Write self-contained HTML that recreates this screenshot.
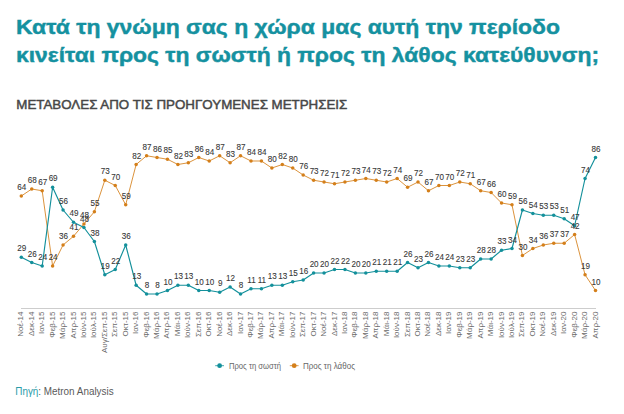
<!DOCTYPE html>
<html><head><meta charset="utf-8"><style>
html,body{margin:0;padding:0;background:#fff;width:624px;height:414px;overflow:hidden}
svg{display:block}
text{font-family:"Liberation Sans",sans-serif}
.t{font-size:21px;font-weight:bold;fill:#1591a0;stroke:#1591a0;stroke-width:0.45px}
.st{font-size:12.3px;font-weight:normal;fill:#474747;stroke:#474747;stroke-width:0.45px}
.xl{font-size:8px;fill:#6a6a6a}
.dl{font-size:9px;fill:#383838;stroke:#383838;stroke-width:0.1px;text-anchor:middle}
.lg{font-size:8.2px;fill:#666}
.src{font-size:10.5px;fill:#5a5a5a}
</style></head><body>
<svg width="624" height="414" viewBox="0 0 624 414">
<text x="16" y="33.6" class="t" textLength="544" lengthAdjust="spacingAndGlyphs">Κατά τη γνώμη σας η χώρα μας αυτή την περίοδο</text>
<text x="16" y="62.2" class="t" textLength="583" lengthAdjust="spacingAndGlyphs">κινείται προς τη σωστή ή προς τη λάθος κατεύθυνση;</text>
<text x="16.3" y="108.8" class="st" textLength="331" lengthAdjust="spacingAndGlyphs">ΜΕΤΑΒΟΛΕΣ ΑΠΟ ΤΙΣ ΠΡΟΗΓΟΥΜΕΝΕΣ ΜΕΤΡΗΣΕΙΣ</text>
<line x1="21" y1="308.5" x2="596" y2="308.5" stroke="#cdcdcd" stroke-width="1"/>
<text transform="translate(23.30,311.5) rotate(-90)" text-anchor="end" class="xl">Νοέ-14</text>
<text transform="translate(33.74,311.5) rotate(-90)" text-anchor="end" class="xl">Δεκ-14</text>
<text transform="translate(44.18,311.5) rotate(-90)" text-anchor="end" class="xl">Ιαν-15</text>
<text transform="translate(54.62,311.5) rotate(-90)" text-anchor="end" class="xl">Φεβ-15</text>
<text transform="translate(65.06,311.5) rotate(-90)" text-anchor="end" class="xl">Μάρ-15</text>
<text transform="translate(75.50,311.5) rotate(-90)" text-anchor="end" class="xl">Απρ-15</text>
<text transform="translate(85.94,311.5) rotate(-90)" text-anchor="end" class="xl">Ιούν-15</text>
<text transform="translate(96.38,311.5) rotate(-90)" text-anchor="end" class="xl">Ιούλ-15</text>
<text transform="translate(106.82,311.5) rotate(-90)" text-anchor="end" class="xl">Αυγ/Σεπ-15</text>
<text transform="translate(117.26,311.5) rotate(-90)" text-anchor="end" class="xl">Σεπ-15</text>
<text transform="translate(127.70,311.5) rotate(-90)" text-anchor="end" class="xl">Οκτ-15</text>
<text transform="translate(138.14,311.5) rotate(-90)" text-anchor="end" class="xl">Ιαν-16</text>
<text transform="translate(148.58,311.5) rotate(-90)" text-anchor="end" class="xl">Φεβ-16</text>
<text transform="translate(159.02,311.5) rotate(-90)" text-anchor="end" class="xl">Μάρ-16</text>
<text transform="translate(169.46,311.5) rotate(-90)" text-anchor="end" class="xl">Απρ-16</text>
<text transform="translate(179.90,311.5) rotate(-90)" text-anchor="end" class="xl">Μάι-16</text>
<text transform="translate(190.34,311.5) rotate(-90)" text-anchor="end" class="xl">Ιούν-16</text>
<text transform="translate(200.78,311.5) rotate(-90)" text-anchor="end" class="xl">Σεπ-16</text>
<text transform="translate(211.22,311.5) rotate(-90)" text-anchor="end" class="xl">Οκτ-16</text>
<text transform="translate(221.66,311.5) rotate(-90)" text-anchor="end" class="xl">Νοέ-16</text>
<text transform="translate(232.10,311.5) rotate(-90)" text-anchor="end" class="xl">Δεκ-16</text>
<text transform="translate(242.54,311.5) rotate(-90)" text-anchor="end" class="xl">Ιαν-17</text>
<text transform="translate(252.98,311.5) rotate(-90)" text-anchor="end" class="xl">Φεβ-17</text>
<text transform="translate(263.42,311.5) rotate(-90)" text-anchor="end" class="xl">Μάρ-17</text>
<text transform="translate(273.86,311.5) rotate(-90)" text-anchor="end" class="xl">Απρ-17</text>
<text transform="translate(284.30,311.5) rotate(-90)" text-anchor="end" class="xl">Μάι-17</text>
<text transform="translate(294.74,311.5) rotate(-90)" text-anchor="end" class="xl">Ιούν-17</text>
<text transform="translate(305.18,311.5) rotate(-90)" text-anchor="end" class="xl">Σεπ-17</text>
<text transform="translate(315.62,311.5) rotate(-90)" text-anchor="end" class="xl">Οκτ-17</text>
<text transform="translate(326.06,311.5) rotate(-90)" text-anchor="end" class="xl">Νοέ-17</text>
<text transform="translate(336.50,311.5) rotate(-90)" text-anchor="end" class="xl">Δεκ-17</text>
<text transform="translate(346.94,311.5) rotate(-90)" text-anchor="end" class="xl">Ιαν-18</text>
<text transform="translate(357.38,311.5) rotate(-90)" text-anchor="end" class="xl">Φεβ-18</text>
<text transform="translate(367.82,311.5) rotate(-90)" text-anchor="end" class="xl">Μάρ-18</text>
<text transform="translate(378.26,311.5) rotate(-90)" text-anchor="end" class="xl">Απρ-18</text>
<text transform="translate(388.70,311.5) rotate(-90)" text-anchor="end" class="xl">Μάι-18</text>
<text transform="translate(399.14,311.5) rotate(-90)" text-anchor="end" class="xl">Ιούν-18</text>
<text transform="translate(409.58,311.5) rotate(-90)" text-anchor="end" class="xl">Σεπ-18</text>
<text transform="translate(420.02,311.5) rotate(-90)" text-anchor="end" class="xl">Οκτ-18</text>
<text transform="translate(430.46,311.5) rotate(-90)" text-anchor="end" class="xl">Νοέ-18</text>
<text transform="translate(440.90,311.5) rotate(-90)" text-anchor="end" class="xl">Δεκ-18</text>
<text transform="translate(451.34,311.5) rotate(-90)" text-anchor="end" class="xl">Ιαν-19</text>
<text transform="translate(461.78,311.5) rotate(-90)" text-anchor="end" class="xl">Φεβ-19</text>
<text transform="translate(472.22,311.5) rotate(-90)" text-anchor="end" class="xl">Μάρ-19</text>
<text transform="translate(482.66,311.5) rotate(-90)" text-anchor="end" class="xl">Απρ-19</text>
<text transform="translate(493.10,311.5) rotate(-90)" text-anchor="end" class="xl">Μάι-19</text>
<text transform="translate(503.54,311.5) rotate(-90)" text-anchor="end" class="xl">Ιούν-19</text>
<text transform="translate(513.98,311.5) rotate(-90)" text-anchor="end" class="xl">Ιούλ-19</text>
<text transform="translate(524.42,311.5) rotate(-90)" text-anchor="end" class="xl">Σεπ-19</text>
<text transform="translate(534.86,311.5) rotate(-90)" text-anchor="end" class="xl">Οκτ-19</text>
<text transform="translate(545.30,311.5) rotate(-90)" text-anchor="end" class="xl">Νοέ-19</text>
<text transform="translate(555.74,311.5) rotate(-90)" text-anchor="end" class="xl">Δεκ-19</text>
<text transform="translate(566.18,311.5) rotate(-90)" text-anchor="end" class="xl">Ιαν-20</text>
<text transform="translate(576.62,311.5) rotate(-90)" text-anchor="end" class="xl">Φεβ-20</text>
<text transform="translate(587.06,311.5) rotate(-90)" text-anchor="end" class="xl">Μάρ-20</text>
<text transform="translate(597.50,311.5) rotate(-90)" text-anchor="end" class="xl">Απρ-20</text>
<polyline points="21.30,196.00 31.74,189.00 42.18,190.75 52.62,266.00 63.06,245.00 73.50,236.25 83.94,224.00 94.38,211.75 104.82,180.25 115.26,185.50 125.70,204.75 136.14,164.50 146.58,155.75 157.02,157.50 167.46,159.25 177.90,164.50 188.34,162.75 198.78,157.50 209.22,161.00 219.66,155.75 230.10,162.75 240.54,155.75 250.98,161.00 261.42,161.00 271.86,168.00 282.30,164.50 292.74,168.00 303.18,175.00 313.62,180.25 324.06,182.00 334.50,183.75 344.94,182.00 355.38,180.25 365.82,178.50 376.26,180.25 386.70,182.00 397.14,178.50 407.58,187.25 418.02,182.00 428.46,190.75 438.90,185.50 449.34,185.50 459.78,182.00 470.22,183.75 480.66,190.75 491.10,192.50 501.54,203.00 511.98,204.75 522.42,255.50 532.86,248.50 543.30,245.00 553.74,243.25 564.18,243.25 574.62,234.50 585.06,274.75 595.50,290.50" fill="none" stroke="#d47f1a" stroke-width="0.85" stroke-linejoin="round"/><circle cx="21.30" cy="196.00" r="1.75" fill="#d47f1a"/><circle cx="31.74" cy="189.00" r="1.75" fill="#d47f1a"/><circle cx="42.18" cy="190.75" r="1.75" fill="#d47f1a"/><circle cx="52.62" cy="266.00" r="1.75" fill="#d47f1a"/><circle cx="63.06" cy="245.00" r="1.75" fill="#d47f1a"/><circle cx="73.50" cy="236.25" r="1.75" fill="#d47f1a"/><circle cx="83.94" cy="224.00" r="1.75" fill="#d47f1a"/><circle cx="94.38" cy="211.75" r="1.75" fill="#d47f1a"/><circle cx="104.82" cy="180.25" r="1.75" fill="#d47f1a"/><circle cx="115.26" cy="185.50" r="1.75" fill="#d47f1a"/><circle cx="125.70" cy="204.75" r="1.75" fill="#d47f1a"/><circle cx="136.14" cy="164.50" r="1.75" fill="#d47f1a"/><circle cx="146.58" cy="155.75" r="1.75" fill="#d47f1a"/><circle cx="157.02" cy="157.50" r="1.75" fill="#d47f1a"/><circle cx="167.46" cy="159.25" r="1.75" fill="#d47f1a"/><circle cx="177.90" cy="164.50" r="1.75" fill="#d47f1a"/><circle cx="188.34" cy="162.75" r="1.75" fill="#d47f1a"/><circle cx="198.78" cy="157.50" r="1.75" fill="#d47f1a"/><circle cx="209.22" cy="161.00" r="1.75" fill="#d47f1a"/><circle cx="219.66" cy="155.75" r="1.75" fill="#d47f1a"/><circle cx="230.10" cy="162.75" r="1.75" fill="#d47f1a"/><circle cx="240.54" cy="155.75" r="1.75" fill="#d47f1a"/><circle cx="250.98" cy="161.00" r="1.75" fill="#d47f1a"/><circle cx="261.42" cy="161.00" r="1.75" fill="#d47f1a"/><circle cx="271.86" cy="168.00" r="1.75" fill="#d47f1a"/><circle cx="282.30" cy="164.50" r="1.75" fill="#d47f1a"/><circle cx="292.74" cy="168.00" r="1.75" fill="#d47f1a"/><circle cx="303.18" cy="175.00" r="1.75" fill="#d47f1a"/><circle cx="313.62" cy="180.25" r="1.75" fill="#d47f1a"/><circle cx="324.06" cy="182.00" r="1.75" fill="#d47f1a"/><circle cx="334.50" cy="183.75" r="1.75" fill="#d47f1a"/><circle cx="344.94" cy="182.00" r="1.75" fill="#d47f1a"/><circle cx="355.38" cy="180.25" r="1.75" fill="#d47f1a"/><circle cx="365.82" cy="178.50" r="1.75" fill="#d47f1a"/><circle cx="376.26" cy="180.25" r="1.75" fill="#d47f1a"/><circle cx="386.70" cy="182.00" r="1.75" fill="#d47f1a"/><circle cx="397.14" cy="178.50" r="1.75" fill="#d47f1a"/><circle cx="407.58" cy="187.25" r="1.75" fill="#d47f1a"/><circle cx="418.02" cy="182.00" r="1.75" fill="#d47f1a"/><circle cx="428.46" cy="190.75" r="1.75" fill="#d47f1a"/><circle cx="438.90" cy="185.50" r="1.75" fill="#d47f1a"/><circle cx="449.34" cy="185.50" r="1.75" fill="#d47f1a"/><circle cx="459.78" cy="182.00" r="1.75" fill="#d47f1a"/><circle cx="470.22" cy="183.75" r="1.75" fill="#d47f1a"/><circle cx="480.66" cy="190.75" r="1.75" fill="#d47f1a"/><circle cx="491.10" cy="192.50" r="1.75" fill="#d47f1a"/><circle cx="501.54" cy="203.00" r="1.75" fill="#d47f1a"/><circle cx="511.98" cy="204.75" r="1.75" fill="#d47f1a"/><circle cx="522.42" cy="255.50" r="1.75" fill="#d47f1a"/><circle cx="532.86" cy="248.50" r="1.75" fill="#d47f1a"/><circle cx="543.30" cy="245.00" r="1.75" fill="#d47f1a"/><circle cx="553.74" cy="243.25" r="1.75" fill="#d47f1a"/><circle cx="564.18" cy="243.25" r="1.75" fill="#d47f1a"/><circle cx="574.62" cy="234.50" r="1.75" fill="#d47f1a"/><circle cx="585.06" cy="274.75" r="1.75" fill="#d47f1a"/><circle cx="595.50" cy="290.50" r="1.75" fill="#d47f1a"/>
<polyline points="21.30,257.25 31.74,262.50 42.18,266.00 52.62,187.25 63.06,210.00 73.50,222.25 83.94,227.50 94.38,241.50 104.82,274.75 115.26,269.50 125.70,245.00 136.14,285.25 146.58,294.00 157.02,294.00 167.46,290.50 177.90,285.25 188.34,285.25 198.78,290.50 209.22,290.50 219.66,292.25 230.10,287.00 240.54,294.00 250.98,288.75 261.42,288.75 271.86,285.25 282.30,285.25 292.74,281.75 303.18,280.00 313.62,273.00 324.06,273.00 334.50,269.50 344.94,269.50 355.38,273.00 365.82,273.00 376.26,271.25 386.70,271.25 397.14,271.25 407.58,262.50 418.02,267.75 428.46,262.50 438.90,266.00 449.34,266.00 459.78,267.75 470.22,267.75 480.66,259.00 491.10,259.00 501.54,250.25 511.98,248.50 522.42,210.00 532.86,213.50 543.30,215.25 553.74,215.25 564.18,218.75 574.62,225.75 585.06,178.50 595.50,157.50" fill="none" stroke="#13909b" stroke-width="1.15" stroke-linejoin="round"/><circle cx="21.30" cy="257.25" r="1.75" fill="#13909b"/><circle cx="31.74" cy="262.50" r="1.75" fill="#13909b"/><circle cx="42.18" cy="266.00" r="1.75" fill="#13909b"/><circle cx="52.62" cy="187.25" r="1.75" fill="#13909b"/><circle cx="63.06" cy="210.00" r="1.75" fill="#13909b"/><circle cx="73.50" cy="222.25" r="1.75" fill="#13909b"/><circle cx="83.94" cy="227.50" r="1.75" fill="#13909b"/><circle cx="94.38" cy="241.50" r="1.75" fill="#13909b"/><circle cx="104.82" cy="274.75" r="1.75" fill="#13909b"/><circle cx="115.26" cy="269.50" r="1.75" fill="#13909b"/><circle cx="125.70" cy="245.00" r="1.75" fill="#13909b"/><circle cx="136.14" cy="285.25" r="1.75" fill="#13909b"/><circle cx="146.58" cy="294.00" r="1.75" fill="#13909b"/><circle cx="157.02" cy="294.00" r="1.75" fill="#13909b"/><circle cx="167.46" cy="290.50" r="1.75" fill="#13909b"/><circle cx="177.90" cy="285.25" r="1.75" fill="#13909b"/><circle cx="188.34" cy="285.25" r="1.75" fill="#13909b"/><circle cx="198.78" cy="290.50" r="1.75" fill="#13909b"/><circle cx="209.22" cy="290.50" r="1.75" fill="#13909b"/><circle cx="219.66" cy="292.25" r="1.75" fill="#13909b"/><circle cx="230.10" cy="287.00" r="1.75" fill="#13909b"/><circle cx="240.54" cy="294.00" r="1.75" fill="#13909b"/><circle cx="250.98" cy="288.75" r="1.75" fill="#13909b"/><circle cx="261.42" cy="288.75" r="1.75" fill="#13909b"/><circle cx="271.86" cy="285.25" r="1.75" fill="#13909b"/><circle cx="282.30" cy="285.25" r="1.75" fill="#13909b"/><circle cx="292.74" cy="281.75" r="1.75" fill="#13909b"/><circle cx="303.18" cy="280.00" r="1.75" fill="#13909b"/><circle cx="313.62" cy="273.00" r="1.75" fill="#13909b"/><circle cx="324.06" cy="273.00" r="1.75" fill="#13909b"/><circle cx="334.50" cy="269.50" r="1.75" fill="#13909b"/><circle cx="344.94" cy="269.50" r="1.75" fill="#13909b"/><circle cx="355.38" cy="273.00" r="1.75" fill="#13909b"/><circle cx="365.82" cy="273.00" r="1.75" fill="#13909b"/><circle cx="376.26" cy="271.25" r="1.75" fill="#13909b"/><circle cx="386.70" cy="271.25" r="1.75" fill="#13909b"/><circle cx="397.14" cy="271.25" r="1.75" fill="#13909b"/><circle cx="407.58" cy="262.50" r="1.75" fill="#13909b"/><circle cx="418.02" cy="267.75" r="1.75" fill="#13909b"/><circle cx="428.46" cy="262.50" r="1.75" fill="#13909b"/><circle cx="438.90" cy="266.00" r="1.75" fill="#13909b"/><circle cx="449.34" cy="266.00" r="1.75" fill="#13909b"/><circle cx="459.78" cy="267.75" r="1.75" fill="#13909b"/><circle cx="470.22" cy="267.75" r="1.75" fill="#13909b"/><circle cx="480.66" cy="259.00" r="1.75" fill="#13909b"/><circle cx="491.10" cy="259.00" r="1.75" fill="#13909b"/><circle cx="501.54" cy="250.25" r="1.75" fill="#13909b"/><circle cx="511.98" cy="248.50" r="1.75" fill="#13909b"/><circle cx="522.42" cy="210.00" r="1.75" fill="#13909b"/><circle cx="532.86" cy="213.50" r="1.75" fill="#13909b"/><circle cx="543.30" cy="215.25" r="1.75" fill="#13909b"/><circle cx="553.74" cy="215.25" r="1.75" fill="#13909b"/><circle cx="564.18" cy="218.75" r="1.75" fill="#13909b"/><circle cx="574.62" cy="225.75" r="1.75" fill="#13909b"/><circle cx="585.06" cy="178.50" r="1.75" fill="#13909b"/><circle cx="595.50" cy="157.50" r="1.75" fill="#13909b"/>
<text transform="translate(21.80,190.10) scale(0.9,1)" class="dl">64</text>
<text transform="translate(32.24,183.10) scale(0.9,1)" class="dl">68</text>
<text transform="translate(42.68,184.85) scale(0.9,1)" class="dl">67</text>
<text transform="translate(53.12,260.10) scale(0.9,1)" class="dl">24</text>
<text transform="translate(63.56,239.10) scale(0.9,1)" class="dl">36</text>
<text transform="translate(74.00,230.35) scale(0.9,1)" class="dl">41</text>
<text transform="translate(84.44,218.10) scale(0.9,1)" class="dl">48</text>
<text transform="translate(94.88,205.85) scale(0.9,1)" class="dl">55</text>
<text transform="translate(105.32,174.35) scale(0.9,1)" class="dl">73</text>
<text transform="translate(115.76,179.60) scale(0.9,1)" class="dl">70</text>
<text transform="translate(126.20,198.85) scale(0.9,1)" class="dl">59</text>
<text transform="translate(136.64,158.60) scale(0.9,1)" class="dl">82</text>
<text transform="translate(147.08,149.85) scale(0.9,1)" class="dl">87</text>
<text transform="translate(157.52,151.60) scale(0.9,1)" class="dl">86</text>
<text transform="translate(167.96,153.35) scale(0.9,1)" class="dl">85</text>
<text transform="translate(178.40,158.60) scale(0.9,1)" class="dl">82</text>
<text transform="translate(188.84,156.85) scale(0.9,1)" class="dl">83</text>
<text transform="translate(199.28,151.60) scale(0.9,1)" class="dl">86</text>
<text transform="translate(209.72,155.10) scale(0.9,1)" class="dl">84</text>
<text transform="translate(220.16,149.85) scale(0.9,1)" class="dl">87</text>
<text transform="translate(230.60,156.85) scale(0.9,1)" class="dl">83</text>
<text transform="translate(241.04,149.85) scale(0.9,1)" class="dl">87</text>
<text transform="translate(251.48,155.10) scale(0.9,1)" class="dl">84</text>
<text transform="translate(261.92,155.10) scale(0.9,1)" class="dl">84</text>
<text transform="translate(272.36,162.10) scale(0.9,1)" class="dl">80</text>
<text transform="translate(282.80,158.60) scale(0.9,1)" class="dl">82</text>
<text transform="translate(293.24,162.10) scale(0.9,1)" class="dl">80</text>
<text transform="translate(303.68,169.10) scale(0.9,1)" class="dl">76</text>
<text transform="translate(314.12,174.35) scale(0.9,1)" class="dl">73</text>
<text transform="translate(324.56,176.10) scale(0.9,1)" class="dl">72</text>
<text transform="translate(335.00,177.85) scale(0.9,1)" class="dl">71</text>
<text transform="translate(345.44,176.10) scale(0.9,1)" class="dl">72</text>
<text transform="translate(355.88,174.35) scale(0.9,1)" class="dl">73</text>
<text transform="translate(366.32,172.60) scale(0.9,1)" class="dl">74</text>
<text transform="translate(376.76,174.35) scale(0.9,1)" class="dl">73</text>
<text transform="translate(387.20,176.10) scale(0.9,1)" class="dl">72</text>
<text transform="translate(397.64,172.60) scale(0.9,1)" class="dl">74</text>
<text transform="translate(408.08,181.35) scale(0.9,1)" class="dl">69</text>
<text transform="translate(418.52,176.10) scale(0.9,1)" class="dl">72</text>
<text transform="translate(428.96,184.85) scale(0.9,1)" class="dl">67</text>
<text transform="translate(439.40,179.60) scale(0.9,1)" class="dl">70</text>
<text transform="translate(449.84,179.60) scale(0.9,1)" class="dl">70</text>
<text transform="translate(460.28,176.10) scale(0.9,1)" class="dl">72</text>
<text transform="translate(470.72,177.85) scale(0.9,1)" class="dl">71</text>
<text transform="translate(481.16,184.85) scale(0.9,1)" class="dl">67</text>
<text transform="translate(491.60,186.60) scale(0.9,1)" class="dl">66</text>
<text transform="translate(502.04,197.10) scale(0.9,1)" class="dl">60</text>
<text transform="translate(512.48,198.85) scale(0.9,1)" class="dl">59</text>
<text transform="translate(522.92,249.60) scale(0.9,1)" class="dl">30</text>
<text transform="translate(533.36,242.60) scale(0.9,1)" class="dl">34</text>
<text transform="translate(543.80,239.10) scale(0.9,1)" class="dl">36</text>
<text transform="translate(554.24,237.35) scale(0.9,1)" class="dl">37</text>
<text transform="translate(564.68,237.35) scale(0.9,1)" class="dl">37</text>
<text transform="translate(575.12,228.60) scale(0.9,1)" class="dl">42</text>
<text transform="translate(585.56,268.85) scale(0.9,1)" class="dl">19</text>
<text transform="translate(596.00,284.60) scale(0.9,1)" class="dl">10</text>
<text transform="translate(21.80,251.35) scale(0.9,1)" class="dl">29</text>
<text transform="translate(32.24,256.60) scale(0.9,1)" class="dl">26</text>
<text transform="translate(42.68,260.10) scale(0.9,1)" class="dl">24</text>
<text transform="translate(53.12,181.35) scale(0.9,1)" class="dl">69</text>
<text transform="translate(63.56,204.10) scale(0.9,1)" class="dl">56</text>
<text transform="translate(74.00,216.35) scale(0.9,1)" class="dl">49</text>
<text transform="translate(84.44,221.60) scale(0.9,1)" class="dl">48</text>
<text transform="translate(94.88,235.60) scale(0.9,1)" class="dl">38</text>
<text transform="translate(105.32,268.85) scale(0.9,1)" class="dl">19</text>
<text transform="translate(115.76,263.60) scale(0.9,1)" class="dl">22</text>
<text transform="translate(126.20,239.10) scale(0.9,1)" class="dl">36</text>
<text transform="translate(136.64,279.35) scale(0.9,1)" class="dl">13</text>
<text transform="translate(147.08,288.10) scale(0.9,1)" class="dl">8</text>
<text transform="translate(157.52,288.10) scale(0.9,1)" class="dl">8</text>
<text transform="translate(167.96,284.60) scale(0.9,1)" class="dl">10</text>
<text transform="translate(178.40,279.35) scale(0.9,1)" class="dl">13</text>
<text transform="translate(188.84,279.35) scale(0.9,1)" class="dl">13</text>
<text transform="translate(199.28,284.60) scale(0.9,1)" class="dl">10</text>
<text transform="translate(209.72,284.60) scale(0.9,1)" class="dl">10</text>
<text transform="translate(220.16,286.35) scale(0.9,1)" class="dl">9</text>
<text transform="translate(230.60,281.10) scale(0.9,1)" class="dl">12</text>
<text transform="translate(241.04,288.10) scale(0.9,1)" class="dl">8</text>
<text transform="translate(251.48,282.85) scale(0.9,1)" class="dl">11</text>
<text transform="translate(261.92,282.85) scale(0.9,1)" class="dl">11</text>
<text transform="translate(272.36,279.35) scale(0.9,1)" class="dl">13</text>
<text transform="translate(282.80,279.35) scale(0.9,1)" class="dl">13</text>
<text transform="translate(293.24,275.85) scale(0.9,1)" class="dl">15</text>
<text transform="translate(303.68,274.10) scale(0.9,1)" class="dl">16</text>
<text transform="translate(314.12,267.10) scale(0.9,1)" class="dl">20</text>
<text transform="translate(324.56,267.10) scale(0.9,1)" class="dl">20</text>
<text transform="translate(335.00,263.60) scale(0.9,1)" class="dl">22</text>
<text transform="translate(345.44,263.60) scale(0.9,1)" class="dl">22</text>
<text transform="translate(355.88,267.10) scale(0.9,1)" class="dl">20</text>
<text transform="translate(366.32,267.10) scale(0.9,1)" class="dl">20</text>
<text transform="translate(376.76,265.35) scale(0.9,1)" class="dl">21</text>
<text transform="translate(387.20,265.35) scale(0.9,1)" class="dl">21</text>
<text transform="translate(397.64,265.35) scale(0.9,1)" class="dl">21</text>
<text transform="translate(408.08,256.60) scale(0.9,1)" class="dl">26</text>
<text transform="translate(418.52,261.85) scale(0.9,1)" class="dl">23</text>
<text transform="translate(428.96,256.60) scale(0.9,1)" class="dl">26</text>
<text transform="translate(439.40,260.10) scale(0.9,1)" class="dl">24</text>
<text transform="translate(449.84,260.10) scale(0.9,1)" class="dl">24</text>
<text transform="translate(460.28,261.85) scale(0.9,1)" class="dl">23</text>
<text transform="translate(470.72,261.85) scale(0.9,1)" class="dl">23</text>
<text transform="translate(481.16,253.10) scale(0.9,1)" class="dl">28</text>
<text transform="translate(491.60,253.10) scale(0.9,1)" class="dl">28</text>
<text transform="translate(502.04,244.35) scale(0.9,1)" class="dl">33</text>
<text transform="translate(512.48,242.60) scale(0.9,1)" class="dl">34</text>
<text transform="translate(522.92,204.10) scale(0.9,1)" class="dl">56</text>
<text transform="translate(533.36,207.60) scale(0.9,1)" class="dl">54</text>
<text transform="translate(543.80,209.35) scale(0.9,1)" class="dl">53</text>
<text transform="translate(554.24,209.35) scale(0.9,1)" class="dl">53</text>
<text transform="translate(564.68,212.85) scale(0.9,1)" class="dl">51</text>
<text transform="translate(575.12,219.85) scale(0.9,1)" class="dl">47</text>
<text transform="translate(585.56,172.60) scale(0.9,1)" class="dl">74</text>
<text transform="translate(596.00,151.60) scale(0.9,1)" class="dl">86</text>
<line x1="215.2" y1="365.7" x2="224" y2="365.7" stroke="#13909b" stroke-width="0.8"/><circle cx="219.6" cy="365.7" r="2.4" fill="#13909b"/>
<text x="229" y="368.5" class="lg" textLength="52" lengthAdjust="spacingAndGlyphs">Προς τη σωστή</text>
<line x1="289.8" y1="365.7" x2="298.6" y2="365.7" stroke="#d47f1a" stroke-width="0.8"/><circle cx="294.2" cy="365.7" r="2.4" fill="#d47f1a"/>
<text x="303" y="368.5" class="lg" textLength="52" lengthAdjust="spacingAndGlyphs">Προς τη λάθος</text>
<text x="15.3" y="394.6" class="src" textLength="98.3" lengthAdjust="spacingAndGlyphs"><tspan fill="#2a9ca9">Πηγή</tspan>: Metron Analysis</text>
</svg>
</body></html>
